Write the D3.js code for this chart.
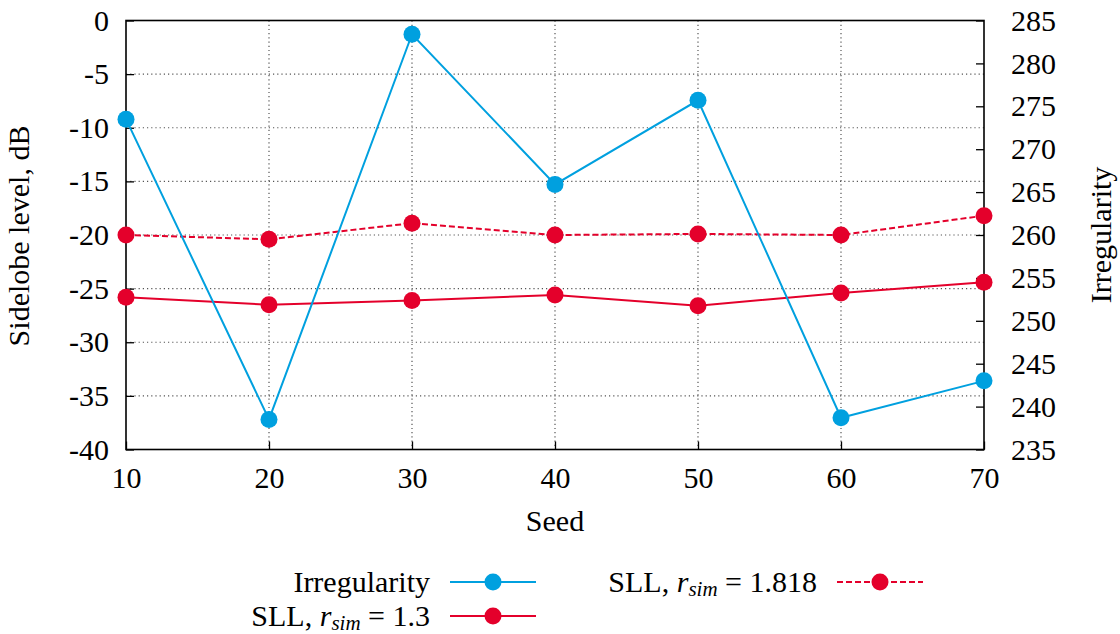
<!DOCTYPE html>
<html>
<head>
<meta charset="utf-8">
<script src="https://cdn.jsdelivr.net/npm/d3@7"></script>
</head>
<body style="margin:0; background:#fff">
<script>
// Størrelse på SVG
const w = 1120;
const h = 634;

// Plotområdet
const plotLeft = 126, plotRight = 984, plotTop = 20.5, plotBottom = 449.5;

// Data
const seeds = [10, 20, 30, 40, 50, 60, 70];
const irregularity = [273.5, 238.5, 283.4, 265.9, 275.7, 238.7, 243.0];
const sll1818 = [-20.0, -20.4, -18.9, -20.0, -19.9, -20.0, -18.2];
const sll13 = [-25.8, -26.5, -26.1, -25.6, -26.6, -25.4, -24.4];

const leftTicks = [0, -5, -10, -15, -20, -25, -30, -35, -40];
const rightTicks = [285, 280, 275, 270, 265, 260, 255, 250, 245, 240, 235];

const blue = "#00a0df";
const red = "#e4002b";
const font = "'Liberation Serif', serif";
const fontSize = "30px";

const svg = d3.select("body").append("svg").attr("width", w).attr("height", h);

// Skalaer
const xScale = d3.scaleLinear().domain([10, 70]).range([plotLeft, plotRight]);
const yLeft = d3.scaleLinear().domain([-40, 0]).range([plotBottom, plotTop]);
const yRight = d3.scaleLinear().domain([235, 285]).range([plotBottom, plotTop]);

// Gitterlinjer (prikkede)
const grid = svg.append("g");
grid.selectAll(".vg")
  .data(seeds.slice(1, -1))
  .enter().append("line")
  .attr("x1", d => xScale(d)).attr("x2", d => xScale(d))
  .attr("y1", plotTop).attr("y2", plotBottom)
  .attr("stroke", "#555").attr("stroke-width", 1.2).attr("stroke-dasharray", "1.2,3");
grid.selectAll(".hg")
  .data(leftTicks.slice(1, -1))
  .enter().append("line")
  .attr("x1", plotLeft).attr("x2", plotRight)
  .attr("y1", d => yLeft(d)).attr("y2", d => yLeft(d))
  .attr("stroke", "#555").attr("stroke-width", 1.2).attr("stroke-dasharray", "1.2,3");

// Akser - bindestreg i stedet for minus, som i originalen
const fmt = d => String(d);
const xAxis = svg.append("g")
  .attr("transform", "translate(0," + plotBottom + ")")
  .call(d3.axisBottom(xScale).tickValues(seeds).tickFormat(fmt).tickSizeInner(-8).tickSizeOuter(0));
const yAxisL = svg.append("g")
  .attr("transform", "translate(" + plotLeft + ",0)")
  .call(d3.axisLeft(yLeft).tickValues(leftTicks).tickFormat(fmt).tickSizeInner(-8).tickSizeOuter(0).tickPadding(17));
const yAxisR = svg.append("g")
  .attr("transform", "translate(" + plotRight + ",0)")
  .call(d3.axisRight(yRight).tickValues(rightTicks).tickFormat(fmt).tickSizeInner(-8).tickSizeOuter(0).tickPadding(27));

[xAxis, yAxisL, yAxisR].forEach(a => {
  a.attr("font-family", null).attr("font-size", null);
  a.select(".domain").remove();
  a.selectAll("line").attr("stroke", "#000").attr("stroke-width", 1.3);
  a.selectAll("text").style("font-size", fontSize).style("font-family", font).attr("fill", "#000");
});
xAxis.selectAll("text").attr("dy", "0.71em").attr("y", 17);

// Ramme rundt om plottet
svg.append("rect")
  .attr("x", plotLeft).attr("y", plotTop)
  .attr("width", plotRight - plotLeft).attr("height", plotBottom - plotTop)
  .attr("fill", "none").attr("stroke", "#000").attr("stroke-width", 1.6);

// Aksetitler
function label(sel) {
  return sel.style("font-family", font).style("font-size", fontSize).attr("fill", "#000");
}
label(svg.append("text"))
  .attr("text-anchor", "middle")
  .attr("transform", "translate(29,236) rotate(-90)")
  .text("Sidelobe level, dB");
label(svg.append("text"))
  .attr("text-anchor", "middle")
  .attr("transform", "translate(1111,235) rotate(-90)")
  .text("Irregularity");
label(svg.append("text"))
  .attr("text-anchor", "middle")
  .attr("x", 555).attr("y", 531)
  .text("Seed");

// Serier
function drawSeries(values, yScale, color, dash) {
  const line = d3.line()
    .x((d, i) => xScale(seeds[i]))
    .y(d => yScale(d));
  svg.append("path")
    .datum(values)
    .attr("d", line)
    .attr("fill", "none")
    .attr("stroke", color)
    .attr("stroke-width", 2)
    .attr("stroke-dasharray", dash);
  svg.append("g").selectAll("circle")
    .data(values)
    .enter().append("circle")
    .attr("cx", (d, i) => xScale(seeds[i]))
    .attr("cy", d => yScale(d))
    .attr("r", 8.5)
    .attr("fill", color);
}
drawSeries(sll13, yLeft, red, null);
drawSeries(sll1818, yLeft, red, "6,3");
drawSeries(irregularity, yRight, blue, null);

// Legende
const legend = [
  { label: "Irregularity", color: blue, dash: null, tx: 430, y: 582 },
  { label: null, color: red, dash: null, tx: 430, y: 616, r: "1.3" },
  { label: null, color: red, dash: "6,3", tx: 817, y: 582, r: "1.818" }
];
legend.forEach(l => {
  const t = label(svg.append("text"))
    .attr("x", l.tx).attr("y", l.y).attr("dy", "0.33em")
    .attr("text-anchor", "end");
  if (l.label) {
    t.text(l.label);
  } else {
    t.append("tspan").text("SLL, ");
    t.append("tspan").style("font-style", "italic").text("r");
    t.append("tspan").style("font-style", "italic").style("font-size", "21px").attr("dy", "4").text("sim");
    t.append("tspan").attr("dy", "-4").text(" = " + l.r);
  }
  const x0 = l.tx + 20, x1 = l.tx + 106;
  svg.append("line")
    .attr("x1", x0).attr("x2", x1).attr("y1", l.y).attr("y2", l.y)
    .attr("stroke", l.color).attr("stroke-width", 2).attr("stroke-dasharray", l.dash);
  svg.append("circle")
    .attr("cx", (x0 + x1) / 2).attr("cy", l.y).attr("r", 8.5).attr("fill", l.color);
});
</script>
</body>
</html>
